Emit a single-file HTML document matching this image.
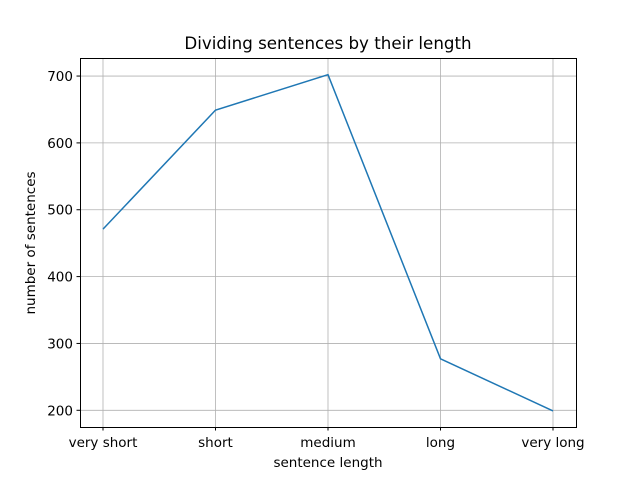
<!DOCTYPE html>
<html><head><meta charset="utf-8"><style>
body{margin:0;background:#fff;}
svg text{font-family:"DejaVu Sans","Liberation Sans",sans-serif;fill:#000;}
</style></head><body>
<svg id="chart" width="640" height="480">
<rect width="640" height="480" fill="#fff"/>
<g id="grid"></g>
<g id="ticks"></g>
<rect x="80.5" y="58.5" width="496" height="369" fill="none" stroke="#000" stroke-width="1"/>
<text x="328" y="49" text-anchor="middle" font-size="16.7">Dividing sentences by their length</text>
<text x="328" y="467" text-anchor="middle" font-size="13.5">sentence length</text>
<text transform="translate(35,243) rotate(-90)" text-anchor="middle" font-size="13.5">number of sentences</text>
</svg>
<script>
const categories=["very short","short","medium","long","very long"];
const values=[471,649,702,277,199];
const yTicks=[200,300,400,500,600,700];
const L=80,R=576,T=58,B=427,yMin=175,yMax=727;
const x=i=>103+i*(553-103)/(categories.length-1);
const y=v=>B-(v-yMin)/(yMax-yMin)*(B-T);
const ns="http://www.w3.org/2000/svg";
const svg=document.getElementById('chart'),grid=document.getElementById('grid'),ticks=document.getElementById('ticks');
function mk(t,a,p){const e=document.createElementNS(ns,t);for(const k in a)e.setAttribute(k,a[k]);p.appendChild(e);return e;}
categories.forEach((c,i)=>{
 const g=mk('line',{x1:x(i),x2:x(i),y1:T,y2:B,stroke:'#b0b0b0','stroke-width':0.8},grid);
 
 
 mk('line',{x1:x(i),x2:x(i),y1:B,y2:B+3.5,stroke:'#000'},ticks);
 const t=mk('text',{x:x(i),y:B+20,'text-anchor':'middle','font-size':13.5},ticks);t.textContent=c;
 
 
});
yTicks.forEach(v=>{
 const g=mk('line',{x1:L,x2:R,y1:y(v),y2:y(v),stroke:'#b0b0b0','stroke-width':0.8},grid);
 
 
 mk('line',{x1:L-3.5,x2:L,y1:y(v),y2:y(v),stroke:'#000'},ticks);
 const t=mk('text',{x:L-7,y:y(v)+5,'text-anchor':'end','font-size':13.5},ticks);t.textContent=v;
 
 
});
const p=mk('polyline',{points:values.map((v,i)=>x(i)+','+y(v)).join(' '),fill:'none',stroke:'#1f77b4','stroke-width':1.5},svg);


</script>
</body></html>
